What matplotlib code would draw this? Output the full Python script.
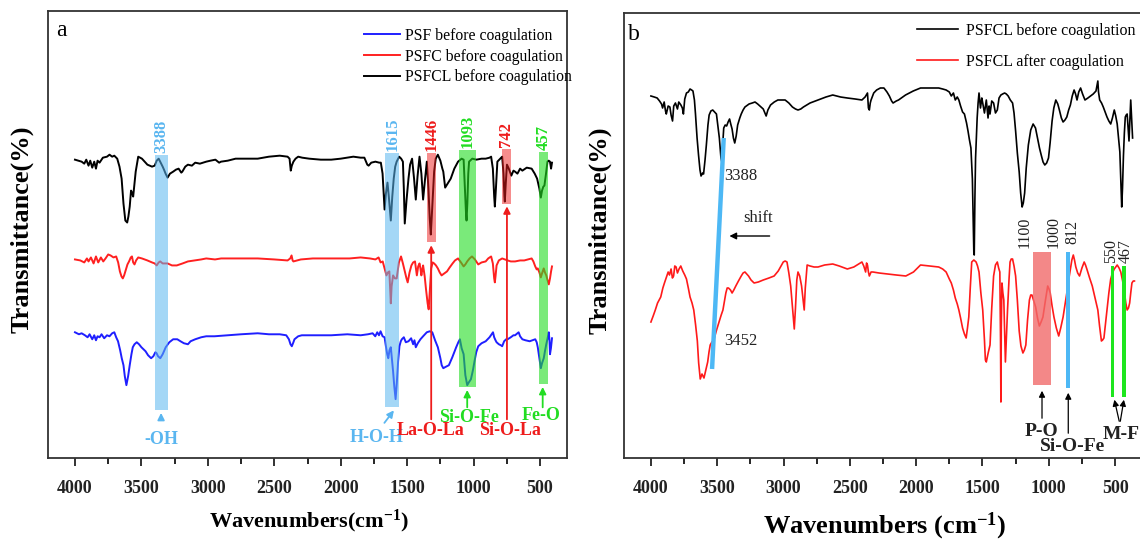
import matplotlib
matplotlib.use("Agg")
import matplotlib.pyplot as plt
from matplotlib.ticker import MultipleLocator

plt.rcParams['font.family'] = ['Liberation Serif', 'DejaVu Serif']
plt.rcParams['mathtext.fontset'] = 'custom'
plt.rcParams['mathtext.rm'] = 'Liberation Serif:bold'
plt.rcParams['mathtext.default'] = 'regular'

# ---- panel a: (wavenumber, transmittance a.u.) ----
psf_before = [(4000,126),(3970,124),(3950,125),(3925,123),(3905,121),(3890,124),(3870,119),(3855,123),(3842,118),(3830,122),(3815,121),(3800,124),(3780,120),(3759,123),(3740,122),(3720,125),(3704,126),(3690,121),(3676,117),(3660,108),(3648,100),(3635,93),(3625,82),(3613,73),(3600,82),(3588,93),(3575,104),(3565,111),(3552,114),(3535,116),(3518,114),(3500,111),(3485,109),(3469,107),(3450,103),(3435,101),(3427,100),(3410,102),(3395,106),(3386,105),(3375,102),(3358,100),(3340,104),(3317,111),(3290,116),(3261,119),(3230,119),(3206,117),(3180,115),(3150,114),(3130,117),(3095,119),(3050,121),(3012,122),(2950,122),(2846,123),(2750,124),(2625,125),(2540,124),(2459,124),(2410,123),(2390,119),(2378,114),(2368,112),(2356,116),(2348,119),(2320,122),(2293,123),(2200,123),(2071,123),(1950,124),(1850,123),(1795,124),(1760,125),(1740,122),(1725,126),(1712,123),(1700,127),(1685,122),(1670,121),(1660,112),(1650,104),(1642,100),(1633,108),(1623,111),(1615,100),(1606,87),(1597,72),(1587,59),(1578,75),(1568,97),(1558,112),(1548,117),(1540,119),(1525,121),(1510,116),(1490,117),(1470,120),(1455,114),(1445,118),(1435,111),(1420,115),(1400,119),(1380,122),(1352,126),(1330,127),(1311,126),(1290,118),(1269,111),(1250,100),(1240,93),(1228,90),(1215,91),(1200,92),(1186,93),(1160,101),(1131,111),(1115,116),(1103,119),(1090,110),(1075,104),(1068,92),(1062,83),(1055,78),(1048,73),(1035,76),(1020,79),(1005,88),(993,97),(980,106),(965,112),(940,115),(909,117),(880,121),(860,125),(854,126),(845,121),(835,118),(827,116),(810,114),(795,113),(785,112),(770,117),(755,119),(744,119),(720,121),(700,123),(688,123),(670,125),(661,126),(650,122),(633,119),(610,118),(578,117),(556,118),(536,119),(525,116),(517,111),(505,100),(494,90),(485,95),(472,100),(463,107),(453,114),(443,120),(434,126),(429,118),(425,104),(418,110),(410,120)]

psfc_before = [(4000,199),(3960,198),(3930,196),(3910,200),(3898,197),(3880,201),(3860,195),(3842,202),(3825,196),(3805,201),(3787,197),(3770,200),(3750,204),(3732,203),(3710,201),(3690,202),(3675,196),(3662,187),(3650,182),(3640,180),(3630,183),(3621,187),(3605,194),(3593,197),(3580,201),(3571,202),(3562,196),(3552,194),(3540,198),(3524,201),(3496,200),(3455,198),(3420,196),(3400,195),(3385,193),(3370,196),(3358,197),(3340,195),(3303,195),(3270,193),(3234,193),(3190,195),(3150,197),(3100,198),(3050,199),(3012,200),(2946,199),(2900,200),(2846,200),(2750,200),(2625,200),(2500,199),(2400,198),(2380,200),(2370,203),(2362,198),(2356,197),(2300,199),(2210,200),(2100,200),(2000,200),(1933,200),(1850,201),(1780,200),(1739,199),(1715,201),(1700,196),(1684,197),(1670,190),(1656,183),(1645,186),(1634,187),(1628,170),(1623,155),(1617,172),(1606,183),(1592,180),(1579,180),(1562,196),(1546,202),(1532,195),(1518,187),(1505,180),(1496,176),(1482,186),(1468,193),(1455,196),(1441,197),(1434,190),(1427,183),(1417,192),(1407,195),(1400,190),(1393,183),(1387,188),(1380,193),(1368,182),(1358,169),(1346,155),(1338,149),(1328,170),(1319,190),(1308,196),(1297,195),(1283,193),(1269,190),(1255,186),(1241,183),(1220,185),(1200,187),(1180,191),(1158,195),(1140,198),(1117,200),(1095,196),(1075,192),(1062,194),(1048,197),(1030,200),(1012,202),(990,199),(965,194),(940,196),(909,197),(890,200),(868,202),(855,195),(845,180),(840,176),(835,182),(827,193),(810,198),(785,200),(765,199),(744,198),(720,197),(688,197),(650,198),(619,198),(590,199),(563,200),(550,197),(536,192),(525,189),(517,190),(505,186),(494,181),(485,185),(472,190),(463,186),(453,183),(443,178),(434,174),(425,180),(417,187),(410,192)]

psfcl_before_a = [(4000,299),(3950,297),(3930,295),(3915,299),(3898,293),(3885,298),(3870,291),(3855,297),(3842,290),(3830,298),(3815,296),(3790,301),(3759,302),(3740,304),(3720,302),(3704,303),(3682,300),(3665,292),(3649,280),(3635,255),(3621,238),(3607,236),(3598,242),(3588,252),(3578,268),(3571,266),(3562,262),(3552,275),(3543,287),(3524,302),(3496,300),(3455,294),(3420,292),(3400,293),(3385,298),(3370,300),(3355,296),(3340,292),(3330,289),(3318,285),(3303,281),(3285,285),(3261,287),(3240,289),(3220,290),(3200,286),(3192,287),(3170,292),(3150,294),(3120,293),(3095,296),(3060,295),(3012,297),(2980,298),(2943,299),(2915,296),(2901,297),(2850,298),(2791,300),(2700,300),(2625,300),(2540,302),(2459,303),(2400,302),(2385,300),(2376,288),(2368,293),(2356,297),(2340,300),(2320,302),(2290,301),(2237,300),(2150,299),(2071,299),(2000,300),(1905,302),(1850,301),(1822,301),(1800,294),(1790,293),(1770,296),(1739,297),(1710,296),(1698,296),(1685,285),(1675,262),(1670,249),(1660,265),(1648,276),(1638,262),(1623,238),(1612,262),(1601,280),(1590,292),(1579,297),(1560,302),(1545,300),(1532,297),(1525,270),(1518,235),(1505,258),(1490,280),(1478,294),(1463,300),(1448,280),(1435,259),(1422,282),(1407,302),(1393,285),(1380,259),(1365,280),(1352,297),(1340,270),(1330,240),(1322,224),(1312,250),(1297,287),(1285,300),(1269,304),(1250,298),(1235,290),(1228,287),(1214,271),(1195,275),(1172,280),(1145,290),(1117,297),(1090,300),(1075,299),(1065,270),(1057,245),(1053,238),(1047,255),(1040,285),(1034,297),(1010,300),(979,299),(940,300),(909,300),(880,301),(868,302),(855,290),(845,262),(840,252),(832,270),(821,297),(800,300),(785,302),(775,285),(768,262),(765,257),(758,275),(749,294),(735,290),(716,283),(700,288),(688,287),(670,285),(650,290),(633,288),(600,291),(563,290),(540,285),(522,280),(505,270),(494,261),(485,268),(475,272),(467,273),(455,285),(444,297),(435,298),(425,297),(417,290),(410,296)]

# ---- panel b ----
psfcl_before_b = [(4000,362),(3975,361),(3953,360),(3935,357),(3920,354),(3912,350),(3900,356),(3890,347),(3884,344),(3870,352),(3857,351),(3848,343),(3837,337),(3828,352),(3815,355),(3800,349),(3790,356),(3774,353),(3763,350),(3755,344),(3745,359),(3732,365),(3718,366),(3705,369),(3693,368),(3683,367),(3672,358),(3664,344),(3652,320),(3641,303),(3630,288),(3622,282),(3610,285),(3603,284),(3592,298),(3582,313),(3570,333),(3561,343),(3548,347),(3534,348),(3520,346),(3506,344),(3495,332),(3484,320),(3472,300),(3465,296),(3458,315),(3451,330),(3440,333),(3429,332),(3418,336),(3407,339),(3398,334),(3388,329),(3378,320),(3368,315),(3357,322),(3346,333),(3330,340),(3319,344),(3305,348),(3291,351),(3260,354),(3236,355),(3215,356),(3195,354),(3170,351),(3153,349),(3140,345),(3131,342),(3118,348),(3098,353),(3070,356),(3043,358),(3015,358),(2988,358),(2960,355),(2933,351),(2910,349),(2891,348),(2870,349),(2850,351),(2800,355),(2740,358),(2680,361),(2629,363),(2570,361),(2519,360),(2460,359),(2409,358),(2385,361),(2367,365),(2360,350),(2353,348),(2346,355),(2340,358),(2320,365),(2298,368),(2270,370),(2243,370),(2220,366),(2202,362),(2185,357),(2174,355),(2150,357),(2133,358),(2080,363),(2022,367),(1967,370),(1900,370),(1830,370),(1800,369),(1774,368),(1750,366),(1735,362),(1719,365),(1705,358),(1690,361),(1678,358),(1665,352),(1650,346),(1636,344),(1620,335),(1609,327),(1598,318),(1587,310),(1580,290),(1576,279),(1570,240),(1565,205),(1562,203),(1557,260),(1552,300),(1548,313),(1540,340),(1533,355),(1526,365),(1515,350),(1505,360),(1498,355),(1485,345),(1471,358),(1458,340),(1450,352),(1443,344),(1430,357),(1416,355),(1402,345),(1388,348),(1375,360),(1361,363),(1348,364),(1333,365),(1320,364),(1306,362),(1290,358),(1273,355),(1262,345),(1250,327),(1237,305),(1223,286),(1212,265),(1201,251),(1192,255),(1182,265),(1170,290),(1154,313),(1136,328),(1118,334),(1100,330),(1085,320),(1070,310),(1057,303),(1043,296),(1030,293),(1016,295),(1002,300),(990,315),(975,337),(962,350),(947,358),(932,354),(920,348),(905,340),(892,336),(878,338),(864,341),(850,348),(837,353),(823,362),(809,368),(798,364),(787,358),(774,366),(760,370),(745,364),(727,358),(705,360),(685,362),(665,364),(644,367),(637,372),(630,377),(625,366),(616,358),(602,355),(589,351),(575,346),(561,341),(547,337),(533,334),(520,340),(506,348),(495,342),(484,334),(474,320),(464,306),(457,280),(450,251),(444,270),(437,302),(430,325),(423,341),(416,343),(409,344),(402,330),(395,317),(388,340),(382,358),(375,340),(368,320)]

psfcl_after = [(4000,136),(3983,142),(3967,148),(3950,155),(3926,161),(3910,170),(3898,175),(3885,180),(3870,186),(3860,183),(3848,189),(3838,180),(3829,182),(3820,192),(3810,191),(3800,185),(3788,189),(3775,192),(3760,187),(3745,183),(3732,179),(3718,170),(3705,161),(3690,155),(3677,148),(3663,133),(3650,117),(3640,95),(3628,79),(3615,84),(3600,80),(3586,88),(3572,96),(3562,106),(3553,113),(3540,116),(3526,118),(3505,128),(3484,137),(3470,143),(3457,148),(3445,157),(3435,165),(3425,170),(3415,170),(3400,168),(3388,165),(3375,168),(3360,172),(3340,177),(3319,182),(3305,185),(3291,186),(3278,184),(3264,182),(3245,178),(3222,175),(3190,176),(3153,178),(3110,180),(3071,182),(3040,187),(3015,193),(3002,196),(2988,197),(2974,196),(2960,185),(2946,172),(2932,150),(2919,129),(2910,150),(2900,178),(2891,186),(2878,182),(2864,172),(2852,158),(2844,148),(2836,170),(2822,193),(2800,192),(2770,191),(2740,191),(2690,193),(2629,194),(2580,192),(2519,189),(2470,191),(2409,196),(2395,192),(2381,186),(2374,195),(2367,193),(2360,186),(2353,182),(2340,186),(2326,186),(2280,185),(2216,184),(2150,183),(2078,182),(2020,186),(1967,193),(1900,192),(1830,191),(1800,189),(1774,186),(1750,179),(1735,175),(1719,168),(1705,160),(1690,154),(1678,148),(1665,140),(1650,130),(1636,124),(1623,120),(1613,130),(1603,141),(1592,170),(1581,196),(1565,198),(1548,196),(1537,192),(1526,186),(1512,165),(1498,148),(1485,118),(1478,98),(1471,96),(1457,105),(1443,113),(1430,150),(1416,182),(1402,193),(1388,196),(1378,190),(1369,186),(1364,120),(1361,56),(1358,130),(1353,175),(1346,165),(1339,158),(1333,125),(1327,96),(1320,120),(1311,148),(1300,178),(1292,196),(1283,199),(1273,199),(1262,192),(1250,182),(1237,158),(1223,127),(1210,112),(1195,105),(1184,108),(1173,113),(1160,138),(1146,158),(1136,163),(1127,163),(1113,157),(1099,151),(1085,140),(1071,132),(1058,136),(1044,141),(1026,157),(1008,172),(998,169),(989,165),(975,152),(961,141),(943,130),(925,122),(910,130),(892,141),(878,153),(864,165),(850,178),(837,189),(826,198),(815,203),(806,198),(796,191),(782,185),(768,182),(750,190),(733,196),(723,193),(713,189),(692,180),(672,172),(651,160),(630,148),(617,132),(603,117),(594,118),(584,120),(572,135),(561,148),(547,165),(533,179),(520,185),(506,189),(495,191),(484,193),(470,190),(457,186),(443,177),(429,165),(419,155),(409,148),(399,150),(390,155),(382,165),(373,175),(363,177),(354,177)]

xticks = [4000, 3500, 3000, 2500, 2000, 1500, 1000, 500]

LBLUE = '#5ab6f0'
RED = '#ee1c1c'
GREEN = '#22dd22'


def xy(pts):
    return [p[0] for p in pts], [p[1] for p in pts]


def style_axes(ax, ymax):
    ax.set_xlim(4203, 297)
    ax.set_ylim(0, ymax)
    ax.set_yticks([])
    ax.set_xticks(xticks)
    ax.xaxis.set_minor_locator(MultipleLocator(250))
    ax.tick_params(axis='x', which='major', direction='out', length=6, width=1.3, pad=10,
                   labelsize=13, colors='#222222')
    ax.tick_params(axis='x', which='minor', direction='out', length=4, width=1.2)
    for lab in ax.get_xticklabels():
        lab.set_fontweight('bold')
    for s in ax.spines.values():
        s.set_linewidth(1.3)
        s.set_color('#333333')


fig = plt.figure(figsize=(11.4, 5.4), dpi=100, facecolor='white')

# ================= panel a =================
ax = fig.add_axes([48/1140, 82/540, 519/1140, 447/540])
style_axes(ax, 448)
x, y = xy(psf_before)
ax.plot(x, y, color='#1f1fff', lw=1.4, label='PSF before coagulation')
x, y = xy(psfc_before)
ax.plot(x, y, color='#ff2020', lw=1.4, label='PSFC before coagulation')
x, y = xy(psfcl_before_a)
ax.plot(x, y, color='black', lw=1.4, label='PSFCL before coagulation')

bands_a = [(3400, 3303, 48, 304, LBLUE, 0.55, '3388'),
           (1665, 1560, 51, 306, LBLUE, 0.55, '1615'),
           (1352, 1283, 216, 306, RED, 0.5, '1446'),
           (1111, 979, 71, 309, GREEN, 0.6, '1093'),
           (785, 721, 255, 310, RED, 0.5, '742'),
           (508, 439, 74, 307, GREEN, 0.6, '457')]
for x0, x1, y0, y1, c, a, t in bands_a:
    ax.fill_between([x0, x1], y0, y1, color=c, alpha=a, lw=0, zorder=3)
    ax.text((x0 + x1) / 2, y1 + 2, t, rotation=90, ha='center', va='bottom', color=c,
            fontsize=12, fontweight='bold')

arrows_a = [('-OH', 3352, 19, 3352, 36, 3352, 48, LBLUE),
            ('H-O-H', 1726, 21, 1684, 33, 1587, 50, LBLUE),
            ('La-O-La', 1324, 28, 1319, 36, 1319, 216, RED),
            ('Si-O-Fe', 1034, 41, 1048, 48, 1048, 71, GREEN),
            ('Si-O-La', 729, 28, 749, 36, 749, 255, RED),
            ('Fe-O', 494, 43, 480, 48, 480, 74, GREEN)]
for t, tx, ty, ax0, ay0, ax1, ay1, c in arrows_a:
    ax.annotate('', xy=(ax1, ay1), xytext=(ax0, ay0),
                arrowprops=dict(arrowstyle='-|>', color=c, lw=1.3, mutation_scale=10))
    ax.text(tx, ty, t, ha='center', va='center', color=c, fontsize=13, fontweight='bold')

ax.text(4105, 428, 'a', fontsize=17, ha='center', va='center')
ax.legend(loc='upper left', bbox_to_anchor=(0.609, 0.962), frameon=False, fontsize=11.3,
          handlelength=2.3, handletextpad=0.3, labelspacing=0.3, borderaxespad=0, borderpad=0)

fig.text(22/1140, 1 - 229/540, 'Transmittance(%)', rotation=90, ha='center', va='center',
         fontsize=19, fontweight='bold')
fig.text(309/1140, 1 - 521/540, 'Wavenumbers(cm$^{-1}$)', ha='center', va='center',
         fontsize=16, fontweight='bold')

# ================= panel b =================
bx = fig.add_axes([624/1140, 82/540, 518/1140, 445/540])
style_axes(bx, 445)
x, y = xy(psfcl_before_b)
bx.plot(x, y, color='black', lw=1.2, label='PSFCL before coagulation')
x, y = xy(psfcl_after)
bx.plot(x, y, color='#ff1a1a', lw=1.2, label='PSFCL after coagulation')

bx.plot([3451, 3539], [320, 89], color='#4db8f5', lw=3.2, solid_capstyle='butt', zorder=3)
bx.text(3445, 282, '3388', fontsize=12, va='center', ha='left', color='#222222')
bx.text(3445, 117, '3452', fontsize=12, va='center', ha='left', color='#222222')
bx.text(3195, 240, 'shift', fontsize=12, va='center', ha='center', color='#222222')
bx.annotate('', xy=(3429, 222), xytext=(3084, 222),
            arrowprops=dict(arrowstyle='-|>', color='black', lw=1.0, mutation_scale=10))

bx.fill_between([1118, 986], 73, 206, color='#f06a6a', alpha=0.8, lw=0, zorder=3)
bx.fill_between([870, 837], 70, 206, color='#4db8f5', lw=0, zorder=3)
bx.fill_between([533, 506], 61, 192, color='#1ee61e', lw=0, zorder=3)
bx.fill_between([445, 415], 61, 192, color='#1ee61e', lw=0, zorder=3)

peaks_b = [('1100', 1181, 210), ('1000', 966, 210), ('812', 823, 214),
           ('550', 527, 195), ('467', 421, 195)]
for t, px, py in peaks_b:
    bx.text(px, py, t, rotation=90, ha='center', va='bottom', fontsize=11.5, color='#222222')

for x0, y0, x1, y1 in [(1051, 37, 1051, 70), (853, 22, 853, 68), (464, 34, 510, 61), (464, 34, 430, 61)]:
    bx.annotate('', xy=(x1, y1), xytext=(x0, y0),
                arrowprops=dict(arrowstyle='-|>', color='black', lw=0.9, mutation_scale=9))
bx.text(1051, 35, 'P-O', ha='center', va='top', fontsize=14, fontweight='bold', color='#222222')
bx.text(823, 20, 'Si-O-Fe', ha='center', va='top', fontsize=14, fontweight='bold', color='#222222')
bx.text(458, 32, 'M-F', ha='center', va='top', fontsize=14, fontweight='bold', color='#222222')

bx.text(4132, 424, 'b', fontsize=17, ha='center', va='center')
bx.legend(loc='upper left', bbox_to_anchor=(0.565, 0.978), frameon=False, fontsize=11.5,
          handlelength=2.6, handletextpad=0.5, labelspacing=0.95, borderaxespad=0, borderpad=0)

fig.text(600/1140, 1 - 230/540, 'Transmittance(%)', rotation=90, ha='center', va='center',
         fontsize=19, fontweight='bold')
fig.text(885/1140, 1 - 526/540, 'Wavenumbers (cm$^{-1}$)', ha='center', va='center',
         fontsize=19, fontweight='bold')

fig.savefig('out.png', dpi=100, facecolor='white')
